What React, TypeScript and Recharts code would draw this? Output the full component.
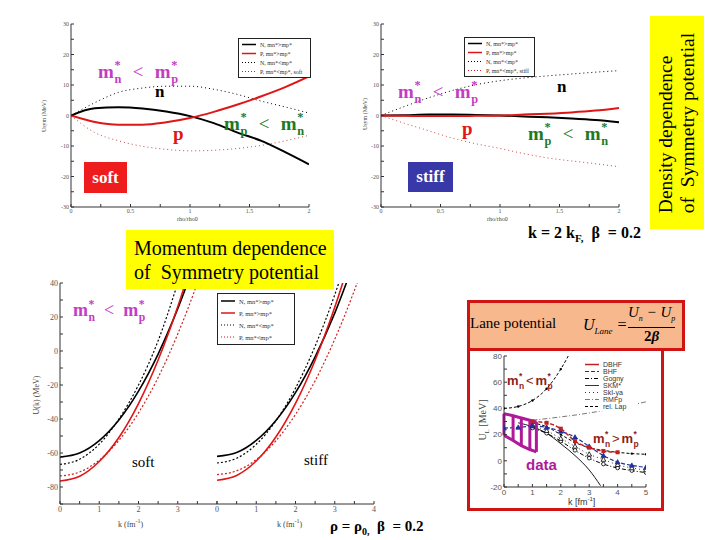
import React from 'react';
import { LineChart, Line, XAxis, YAxis, ReferenceLine } from 'recharts';

const SERIF = '"Liberation Serif", "DejaVu Serif", serif';
const SANS = '"Liberation Sans", Arial, sans-serif';

// density dependence of U_sym, x = rho/rho0
const rhoRatio = [0, 0.2, 0.4, 0.6, 0.8, 1.0, 1.2, 1.4, 1.6, 1.8, 2.0];
const softNGt = [0, 2.4, 2.7, 2.3, 1.3, -0.2, -2.5, -5.6, -8.3, -12, -16];
const softPGt = [0, -2.1, -3.0, -3.0, -2.2, -0.8, 1.2, 3.6, 6.3, 9.3, 12.8];
const softNLt = [0, 4.2, 7.6, 9.0, 9.6, 9.6, 8.6, 6.9, 4.7, 2.8, 0.8];
const softPLt = [0, -5.6, -8.3, -10.1, -11.1, -11.6, -11.4, -10.8, -9.8, -8.3, -6.5];
const stiffNGt = [0, 0.1, 0.3, 0.3, 0.2, 0, -0.3, -0.6, -1.0, -1.5, -2.2];
const stiffPGt = [0, -0.1, -0.2, -0.2, -0.1, 0, 0.3, 0.6, 1.0, 1.6, 2.5];
const stiffNLt = [0, 3.0, 5.8, 8.2, 10.1, 11.4, 12.3, 13.0, 13.6, 14.2, 14.7];
const stiffPLt = [0, -2.6, -5.0, -7.4, -9.3, -10.8, -12.5, -13.9, -14.9, -15.8, -16.8];

// momentum dependence U(k), k in fm^-1
const kGrid = [0, 0.5, 1, 1.5, 2, 2.5, 3, 3.5, 4];
const softUNGt = [-62.4, -60, -52.7, -40.6, -23.6, -1.8, 24.9, 56, null];
const softUPGt = [-76.5, -73.7, -65, -50.9, -30.9, -5.3, 26, 63, null];
const softUNLt = [-66.7, -63.7, -54.8, -40, -20, 6, 40, 78, null];
const softUPLt = [-73.5, -71.2, -64.2, -52.6, -36.4, -15.6, 10, 40, 75];
const stiffUNGt = [-62, -59.7, -52.6, -40.9, -24.5, -3.4, 22.3, 52.8, null];
const stiffUPGt = [-76, -73.2, -64.7, -50.6, -30.8, -5.4, 25.7, 62, null];
const stiffUNLt = [-65.9, -63.1, -54.9, -41.1, -21.9, 2.9, 33.1, 69, null];
const stiffUPLt = [-72.7, -70.5, -63.9, -52.8, -37.3, -17.5, 6.9, 35.6, 68.7];

// Lane potential
const riseK = [0, 0.5, 1, 1.5, 2, 2.5];
const riseU = [40, 41.5, 46, 55, 70, 90];
const dbhfK = [1, 1.5, 2, 2.5, 3, 3.5, 4];
const dbhfU = [30, 29, 24.5, 15, 10, 7.5, 6.5];
const bhfK = [0, 0.5, 1, 1.5, 2, 2.5, 3, 3.5, 4, 4.5, 5];
const bhfU = [25, 25.5, 26.5, 25.5, 22.5, 18, 11, 4, -1, -3.5, -5];
const gognyK = [1, 1.5, 2, 2.5, 3, 3.5, 4, 4.5, 5];
const gognyU = [25, 21, 15, 8, 2, -2.5, -5.5, -7.5, -9];
const skmK = [0.5, 1, 1.5, 2, 2.5, 3, 3.4];
const skmU = [29, 26, 21, 13, 4, -7, -19];
const skiK = [1, 1.5, 2, 2.5, 3, 3.5, 4, 4.5, 5];
const skiU = [27, 23, 17, 11, 5, 1, -3, -5.5, -7];
const rmfK = [1, 2, 3, 4, 5];
const rmfU = [31, 33.5, 36.5, 40.5, 45];
const relK = [1, 1.5, 2, 2.5, 3, 3.5, 4, 4.5, 5];
const relU = [29, 26, 20, 14, 10, 8, 6.5, 5.5, 5];
// experimental band
const dataK = [0, 0.32, 0.61, 0.91, 1.14];
const dataHi = [36, 34.4, 32.7, 31, 29.7];
const dataLo = [19.5, 15.5, 11.6, 8.6, 6.8];

// ticks
const rhoTicks = [0, 0.25, 0.5, 0.75, 1, 1.25, 1.5, 1.75, 2];
const usymTicks = [-30, -25, -20, -15, -10, -5, 0, 5, 10, 15, 20, 25, 30];
const kTicks = [0, 0.5, 1, 1.5, 2, 2.5, 3, 3.5, 4];
const ukTicks = [-90, -80, -70, -60, -50, -40, -30, -20, -10, 0, 10, 20, 30, 40];
const laneKTicks = [0, 0.5, 1, 1.5, 2, 2.5, 3, 3.5, 4, 4.5, 5];
const laneUTicks = [-20, -10, 0, 10, 20, 30, 40, 50, 60, 70, 80];

// legend labels
const softLegend = ['N, mn*>mp*', 'P, mn*>mp*', 'N, mn*<mp*', 'P, mn*<mp*, soft'];
const stiffLegend = ['N, mn*>mp*', 'P, mn*>mp*', 'N, mn*<mp*', 'P, mn*<mp*, stiff'];
const momLegend = ['N, mn*>mp*', 'P, mn*>mp*', 'N, mn*<mp*', 'P, mn*<mp*'];
const laneLegend = ['DBHF', 'BHF', 'Gogny', 'SKM*', 'SkI-ya', 'RMFp', 'rel. Lap'];

const RED = '#e01515';
const MAG = '#c43cc4';
const GREEN = '#1d7a1d';
const DRED = '#8e1c1c';

const rows = (n: any, p: any, nl: any, pl: any, xs: number[]) =>
  xs.map((x, i) => ({ x, nGt: n[i], pGt: p[i], nLt: nl[i], pLt: pl[i] }));
const pts = (xs: number[], ys: number[]) => xs.map((x, i) => ({ x, y: ys[i] }));

const M = { top: 4, right: 4, bottom: 2, left: 2 };

function Panel({ x0, y0, x1, y1, yw, xh, data, children }: any) {
  const width = x1 - x0 + yw + M.left + M.right;
  const height = y1 - y0 + M.top + M.bottom + xh;
  return (
    <div style={{ position: 'absolute', left: x0 - yw - M.left, top: y0 - M.top }}>
      <LineChart width={width} height={height} data={data} margin={M}>
        {children}
      </LineChart>
    </div>
  );
}

function frame(xd: number[], xt: number[], yd: number[], yt: number[], fx: any, fy: any, yw: number, xh: number, fs: number, fam: string) {
  const tick = { fontSize: fs, fill: '#555', fontFamily: fam };
  const blank = () => '';
  return [
    <XAxis key="xb" type="number" dataKey="x" domain={xd} ticks={xt} interval={0} tickFormatter={fx}
      allowDataOverflow height={xh} tickSize={-3} tickMargin={5} tick={tick} stroke="#333" />,
    <XAxis key="xt" xAxisId="top" orientation="top" type="number" domain={xd} ticks={xt} interval={0}
      tickFormatter={blank} height={0} tickSize={-3} stroke="#333" />,
    <YAxis key="yl" type="number" domain={yd} ticks={yt} interval={0} tickFormatter={fy}
      allowDataOverflow width={yw} tickSize={-3} tickMargin={5} tick={tick} stroke="#333" />,
    <YAxis key="yr" yAxisId="right" orientation="right" type="number" domain={yd} ticks={yt} interval={0}
      tickFormatter={blank} width={0} tickSize={-3} stroke="#333" />,
  ];
}

const fmtHalf = (v: number) => (Math.round(v * 2) === v * 2 ? String(v) : '');
const fmt10 = (v: number) => (v % 10 === 0 ? String(v) : '');
const fmt20 = (v: number) => (v % 20 === 0 ? String(v) : '');
const fmtInt = (v: number) => (Number.isInteger(v) ? String(v) : '');
const fmtInt3 = (v: number) => (Number.isInteger(v) && v < 4 ? String(v) : '');
const blankFmt = () => '';

function T({ x, y, size, color = '#000', bold = false, italic = false, family = SERIF, children }: any) {
  return (
    <div style={{ position: 'absolute', left: x, top: y, fontSize: size, color, fontWeight: bold ? 'bold' : 'normal',
      fontStyle: italic ? 'italic' : 'normal', fontFamily: family, whiteSpace: 'nowrap', lineHeight: 1 }}>
      {children}
    </div>
  );
}

function VT({ cx, cy, size, color = '#444', family = SERIF, children }: any) {
  return (
    <div style={{ position: 'absolute', left: cx, top: cy, transform: 'translate(-50%, -50%) rotate(-90deg)',
      fontSize: size, color, fontFamily: family, whiteSpace: 'nowrap', lineHeight: 1 }}>
      {children}
    </div>
  );
}

// m with a star above and a subscript below, stacked
function MS({ s }: any) {
  return (
    <span>
      m
      <span style={{ display: 'inline-flex', flexDirection: 'column', fontSize: '0.65em', lineHeight: 1.15,
        verticalAlign: '0.72em', marginLeft: '0.05em' }}>
        <span>*</span>
        <span>{s}</span>
      </span>
    </span>
  );
}

function Ineq({ a, b, op = '<', gap = 0.45 }: any) {
  return (
    <span>
      <MS s={a} />
      <span style={{ fontWeight: 'normal', margin: `0 ${gap}em` }}>{op}</span>
      <MS s={b} />
    </span>
  );
}

function LegendBox({ x, y, w, labels, styles, size = 6, rowH = 9, family = SERIF, border = true }: any) {
  return (
    <div style={{ position: 'absolute', left: x, top: y, width: w, border: border ? '1px solid #222' : 'none',
      background: '#fff', padding: '1px 2px', fontFamily: family, fontSize: size, color: '#333' }}>
      {labels.map((lab: string, i: number) => (
        <div key={lab} style={{ display: 'flex', alignItems: 'center', height: rowH }}>
          <svg width={16} height={rowH}>
            <line x1={1} x2={15} y1={rowH / 2} y2={rowH / 2} stroke={styles[i].c} strokeWidth={styles[i].w}
              strokeDasharray={styles[i].d} />
          </svg>
          <span style={{ marginLeft: 3 }}>{lab}</span>
        </div>
      ))}
    </div>
  );
}

const densStyles = [
  { c: '#000', w: 1.5 },
  { c: RED, w: 1.5 },
  { c: '#000', w: 1, d: '1 2' },
  { c: RED, w: 1, d: '1 2' },
];
const laneStyles = [
  { c: '#c02020', w: 1.5 },
  { c: '#1f2f9a', w: 1.2, d: '4 2' },
  { c: '#000', w: 1, d: '4 2 1 2' },
  { c: '#000', w: 0.8 },
  { c: '#000', w: 0.8, d: '1 3' },
  { c: '#555', w: 0.8, d: '5 2 1 2' },
  { c: '#000', w: 1, d: '3 2' },
];

const sq = (c: string) => (p: any) => (
  <rect key={p.index} x={p.cx - 2} y={p.cy - 2} width={4} height={4} fill={c} />
);
const tri = (c: string, fill: string) => (p: any) => (
  <path key={p.index} d={`M${p.cx},${p.cy - 2.5}L${p.cx + 2.4},${p.cy + 1.8}L${p.cx - 2.4},${p.cy + 1.8}Z`}
    fill={fill} stroke={c} strokeWidth={0.8} />
);
const circ = (c: string) => (p: any) => (
  <circle key={p.index} cx={p.cx} cy={p.cy} r={1.8} fill="#fff" stroke={c} strokeWidth={0.8} />
);
const dotS = (c: string) => (p: any) => <circle key={p.index} cx={p.cx} cy={p.cy} r={1.2} fill={c} />;

function DensityChart({ x0, rows: data }: any) {
  return (
    <Panel x0={x0} y0={24} x1={x0 + 238} y1={207} yw={30} xh={12} data={data}>
      {frame([0, 2], rhoTicks, [-30, 30], usymTicks, fmtHalf, fmt10, 30, 12, 6, SERIF)}
      <Line type="monotone" dataKey="nLt" stroke="#000" strokeWidth={1} strokeDasharray="1 3" dot={false} isAnimationActive={false} />
      <Line type="monotone" dataKey="pLt" stroke="#d04545" strokeWidth={1} strokeDasharray="1 3" dot={false} isAnimationActive={false} />
      <Line type="monotone" dataKey="nGt" stroke="#000" strokeWidth={2} dot={false} isAnimationActive={false} />
      <Line type="monotone" dataKey="pGt" stroke={RED} strokeWidth={2} dot={false} isAnimationActive={false} />
    </Panel>
  );
}

function MomentumChart({ x0, rows: data, fx, fy, yw }: any) {
  return (
    <Panel x0={x0} y0={283} x1={x0 + 157} y1={504} yw={yw} xh={14} data={data}>
      {frame([0, 4], kTicks, [-90, 40], ukTicks, fx, fy, yw, 14, 8, SERIF)}
      <Line type="monotone" dataKey="nLt" stroke="#000" strokeWidth={1.2} strokeDasharray="2 2" dot={false} isAnimationActive={false} />
      <Line type="monotone" dataKey="pLt" stroke="#cc2222" strokeWidth={1.2} strokeDasharray="2 2" dot={false} isAnimationActive={false} />
      <Line type="monotone" dataKey="nGt" stroke="#000" strokeWidth={1.6} dot={false} isAnimationActive={false} />
      <Line type="monotone" dataKey="pGt" stroke={RED} strokeWidth={1.6} dot={false} isAnimationActive={false} />
    </Panel>
  );
}

export default function App() {
  const softRows = rows(softNGt, softPGt, softNLt, softPLt, rhoRatio);
  const stiffRows = rows(stiffNGt, stiffPGt, stiffNLt, stiffPLt, rhoRatio);
  const softURows = rows(softUNGt, softUPGt, softUNLt, softUPLt, kGrid);
  const stiffURows = rows(stiffUNGt, stiffUPGt, stiffUNLt, stiffUPLt, kGrid);

  return (
    <div style={{ position: 'absolute', left: 0, top: 0, width: 720, height: 540, background: '#fff', overflow: 'hidden', fontFamily: SERIF }}>
      {/* density dependence, soft and stiff */}
      <DensityChart x0={71} rows={softRows} />
      <DensityChart x0={381} rows={stiffRows} />
      <VT cx={44} cy={116} size={6}>Usym (MeV)</VT>
      <VT cx={365} cy={114} size={6}>Usym (MeV)</VT>
      <T x={177} y={216} size={6} color="#444">rho/rho0</T>
      <T x={487} y={216} size={6} color="#444">rho/rho0</T>
      <LegendBox x={238} y={38} w={67} labels={softLegend} styles={densStyles} />
      <LegendBox x={464} y={37} w={65} labels={stiffLegend} styles={densStyles} />

      <T x={98} y={58} size={19} bold color={MAG}><Ineq a="n" b="p" gap={0.6} /></T>
      <T x={155} y={83} size={17} bold>n</T>
      <T x={173} y={124} size={19} bold color={RED}>p</T>
      <T x={224} y={110} size={19} bold color={GREEN}><Ineq a="p" b="n" gap={0.6} /></T>
      <div style={{ position: 'absolute', left: 84, top: 162, width: 43, height: 31, background: '#ee1c1c',
        color: '#fff', fontWeight: 'bold', fontSize: 17, display: 'flex', alignItems: 'center', justifyContent: 'center' }}>soft</div>

      <T x={398} y={78} size={19} bold color={MAG}><Ineq a="n" b="p" gap={0.6} /></T>
      <T x={557} y={78} size={17} bold>n</T>
      <T x={462} y={119} size={19} bold color={RED}>p</T>
      <T x={528} y={120} size={19} bold color={GREEN}><Ineq a="p" b="n" gap={0.6} /></T>
      <div style={{ position: 'absolute', left: 408, top: 162, width: 45, height: 30, background: '#3838a8',
        color: '#fff', fontWeight: 'bold', fontSize: 17, display: 'flex', alignItems: 'center', justifyContent: 'center' }}>stiff</div>

      <div style={{ position: 'absolute', left: 650, top: 16, width: 54, height: 213, background: '#ffff00',
        display: 'flex', alignItems: 'center', justifyContent: 'center' }}>
        <div style={{ transform: 'rotate(-90deg)', fontSize: 19.5, lineHeight: '22px', whiteSpace: 'nowrap', textAlign: 'left' }}>
          Density dependence<br />of &nbsp;Symmetry potential
        </div>
      </div>

      <T x={528} y={225} size={16} bold>k = 2 k<sub style={{ fontSize: 11 }}>F,</sub> &nbsp;β &nbsp;= 0.2</T>

      {/* momentum dependence, soft and stiff */}
      <MomentumChart x0={60} rows={softURows} fx={fmtInt3} fy={fmt20} yw={26} />
      <MomentumChart x0={217} rows={stiffURows} fx={fmtInt} fy={blankFmt} yw={0} />
      <VT cx={37} cy={395} size={8}>U(k) (MeV)</VT>
      <T x={118} y={518} size={8} color="#444">k (fm<sup style={{ fontSize: 6 }}>-1</sup>)</T>
      <T x={277} y={518} size={8} color="#444">k (fm<sup style={{ fontSize: 6 }}>-1</sup>)</T>
      <LegendBox x={217} y={293} w={72} labels={momLegend} styles={densStyles} rowH={12} size={6.5} />
      <T x={73} y={298} size={18} bold color={MAG}><Ineq a="n" b="p" gap={0.5} /></T>
      <T x={132} y={455} size={15}>soft</T>
      <T x={304} y={453} size={15}>stiff</T>

      <div style={{ position: 'absolute', left: 126, top: 230, width: 208, height: 59, background: '#ffff00',
        fontSize: 20, lineHeight: '24px', padding: '6px 0 0 8px', boxSizing: 'border-box' }}>
        Momentum dependence<br />of &nbsp;Symmetry potential
      </div>

      <T x={330} y={519} size={15} bold>ρ = ρ<sub style={{ fontSize: 10 }}>0,</sub> &nbsp;β &nbsp;= 0.2</T>

      {/* Lane potential */}
      <div style={{ position: 'absolute', left: 467, top: 348, width: 197, height: 163, border: '3px solid #d01414', boxSizing: 'border-box' }} />
      <Panel x0={504} y0={356} x1={646} y1={487} yw={26} xh={12}>
        {frame([0, 5], laneKTicks, [-20, 80], laneUTicks, fmtInt, fmt20, 26, 12, 8, SANS)}
        <Line data={pts(riseK, riseU)} dataKey="y" type="monotone" stroke="#000" strokeWidth={1} strokeDasharray="3 2" dot={dotS('#000')} isAnimationActive={false} />
        <Line data={pts(rmfK, rmfU)} dataKey="y" type="monotone" stroke="#555" strokeWidth={0.8} strokeDasharray="5 2 1 2" dot={false} isAnimationActive={false} />
        <Line data={pts(skmK, skmU)} dataKey="y" type="monotone" stroke="#000" strokeWidth={0.9} dot={false} isAnimationActive={false} />
        <Line data={pts(gognyK, gognyU)} dataKey="y" type="monotone" stroke="#000" strokeWidth={1} strokeDasharray="4 2 1 2" dot={circ('#000')} isAnimationActive={false} />
        <Line data={pts(skiK, skiU)} dataKey="y" type="monotone" stroke="#000" strokeWidth={0.8} strokeDasharray="1 3" dot={tri('#000', '#fff')} isAnimationActive={false} />
        <Line data={pts(relK, relU)} dataKey="y" type="monotone" stroke="#000" strokeWidth={1} strokeDasharray="3 2" dot={dotS('#000')} isAnimationActive={false} />
        <Line data={pts(bhfK, bhfU)} dataKey="y" type="monotone" stroke="#1f2f9a" strokeWidth={1.2} strokeDasharray="4 2" dot={tri('#1f2f9a', '#1f2f9a')} isAnimationActive={false} />
        <Line data={pts(dbhfK, dbhfU)} dataKey="y" type="monotone" stroke="#c02020" strokeWidth={1.5} strokeDasharray="4 2" dot={sq('#c02020')} isAnimationActive={false} />
        <Line data={pts(dataK, dataHi)} dataKey="y" type="linear" stroke="#b0199a" strokeWidth={3} dot={false} isAnimationActive={false} />
        <Line data={pts(dataK, dataLo)} dataKey="y" type="linear" stroke="#b0199a" strokeWidth={3} dot={false} isAnimationActive={false} />
        {dataK.map((k, i) => (
          <ReferenceLine key={k} segment={[{ x: k, y: dataLo[i] }, { x: k, y: dataHi[i] }]} stroke="#b0199a" strokeWidth={3} />
        ))}
      </Panel>
      <LegendBox x={582} y={360} w={52} labels={laneLegend} styles={laneStyles} size={7} rowH={7} family={SANS} border={false} />
      <VT cx={484} cy={420} size={10}>U<sub style={{ fontSize: 7 }}>L</sub> [MeV]</VT>
      <T x={568} y={496} size={9} family={SANS} color="#333">k [fm<sup style={{ fontSize: 6 }}>-1</sup>]</T>
      <T x={507} y={372} size={13} bold family={SANS} color={DRED}><Ineq a="n" b="p" gap={0.15} /></T>
      <T x={593} y={430} size={13} bold family={SANS} color={DRED}><Ineq a="n" b="p" op=">" gap={0.15} /></T>
      <T x={526} y={457} size={15} bold family={SANS} color="#b0199a">data</T>

      <div style={{ position: 'absolute', left: 467, top: 300, width: 218, height: 51, background: '#f8b88e',
        border: '3px solid #d01414', boxSizing: 'border-box' }} />
      <T x={470} y={316} size={15}>Lane potential</T>
      <T x={583} y={317} size={16} italic>U<sub style={{ fontSize: 9 }}>Lane</sub> =</T>
      <div style={{ position: 'absolute', left: 628, top: 304, display: 'flex', flexDirection: 'column', alignItems: 'center',
        fontSize: 15, fontStyle: 'italic', lineHeight: '17px' }}>
        <span>U<sub style={{ fontSize: 8 }}>n</sub> − U<sub style={{ fontSize: 8 }}>p</sub></span>
        <span style={{ borderTop: '1px solid #000', width: '100%', textAlign: 'center', fontWeight: 'bold', fontStyle: 'normal' }}>2<i>β</i></span>
      </div>
    </div>
  );
}
